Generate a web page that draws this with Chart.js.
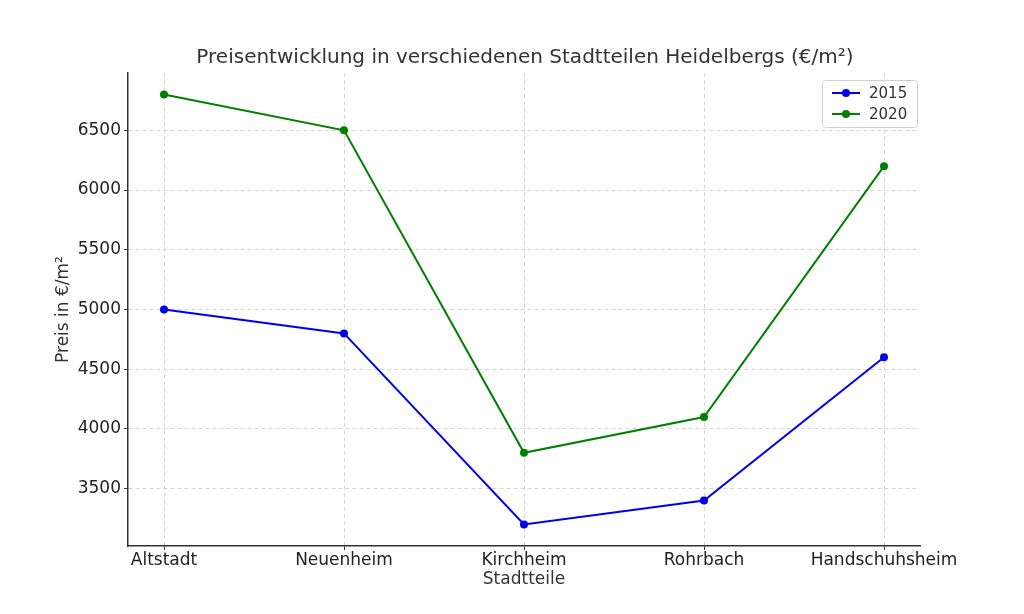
<!DOCTYPE html>
<html>
<head>
<meta charset="utf-8">
<script src="https://cdn.jsdelivr.net/npm/chart.js@4/dist/chart.umd.min.js"></script>
<style>
  html, body { margin: 0; padding: 0; background: #fff; }
  canvas { display: block; }
</style>
</head>
<body>
<canvas id="chart" width="1024" height="614"></canvas>
<script>
const districts = ['Altstadt', 'Neuenheim', 'Kirchheim', 'Rohrbach', 'Handschuhsheim'];
const prices2015 = [5000, 4800, 3200, 3400, 4600];
const prices2020 = [6800, 6500, 3800, 4100, 6200];
const yTicks = [3500, 4000, 4500, 5000, 5500, 6000, 6500];
const seriesLabels = ['2015', '2020'];

const chartTitle = 'Preisentwicklung in verschiedenen Stadtteilen Heidelbergs (€/m²)';
const xTitle = 'Stadtteile';
const yTitle = 'Preis in €/m²';

const FONT = '"DejaVu Sans", sans-serif';
const toPoints = (vals) => vals.map((v, i) => ({ x: i, y: v }));

// title, axis titles and the boxed legend drawn in matplotlib style
const decorations = {
    id: 'decorations',
    afterDraw(chart) {
        const { ctx, chartArea: a } = chart;
        ctx.save();
        ctx.fillStyle = '#333';
        ctx.textAlign = 'center';
        ctx.textBaseline = 'middle';
        ctx.font = `20px ${FONT}`;
        ctx.fillText(chartTitle, (a.left + a.right) / 2 + 1, 58);

        ctx.font = `17px ${FONT}`;
        ctx.fillText(xTitle, (a.left + a.right) / 2, 580);
        ctx.save();
        ctx.translate(64, (a.top + a.bottom) / 2);
        ctx.rotate(-Math.PI / 2);
        ctx.fillText(yTitle, 0, 0);
        ctx.restore();

        // legend
        const bx = 822, by = 80, bw = 95, bh = 47;
        ctx.fillStyle = 'rgba(255,255,255,0.85)';
        ctx.strokeStyle = '#d0d0d0';
        ctx.lineWidth = 1;
        ctx.beginPath();
        ctx.roundRect(bx + 0.5, by + 0.5, bw, bh, 3);
        ctx.fill();
        ctx.stroke();
        ctx.font = `15px ${FONT}`;
        ctx.textAlign = 'left';
        chart.data.datasets.forEach((ds, i) => {
            const y = by + 13 + i * 21;
            ctx.strokeStyle = ds.borderColor;
            ctx.lineWidth = 2;
            ctx.beginPath();
            ctx.moveTo(bx + 10, y);
            ctx.lineTo(bx + 38, y);
            ctx.stroke();
            ctx.fillStyle = ds.borderColor;
            ctx.beginPath();
            ctx.arc(bx + 24, y, 4, 0, Math.PI * 2);
            ctx.fill();
            ctx.fillStyle = '#333';
            ctx.fillText(ds.label, bx + 47, y + 1);
        });
        ctx.restore();
    }
};

new Chart(document.getElementById('chart'), {
    type: 'line',
    data: {
        datasets: [
            { label: seriesLabels[0], data: toPoints(prices2015), borderColor: '#0000ee', backgroundColor: '#0000ee' },
            { label: seriesLabels[1], data: toPoints(prices2020), borderColor: '#007f00', backgroundColor: '#007f00' }
        ]
    },
    options: {
        responsive: false,
        animation: false,
        layout: { padding: { top: 73, right: 104, left: 0, bottom: 0 } },
        elements: {
            line: { borderWidth: 2, tension: 0 },
            point: { radius: 4, hoverRadius: 4, borderWidth: 0 }
        },
        plugins: { legend: { display: false }, tooltip: { enabled: false }, title: { display: false } },
        scales: {
            x: {
                type: 'linear',
                min: -0.2,
                max: 4.2,
                afterBuildTicks: (s) => { s.ticks = districts.map((_, i) => ({ value: i })); },
                afterFit: (s) => { s.height = 68; },
                ticks: { callback: (v) => districts[v], color: '#222', font: { family: FONT, size: 17 }, padding: 0, maxRotation: 0, autoSkip: false },
                grid: { color: '#d6d6d6', lineWidth: 1, tickLength: 4, tickColor: '#333', tickBorderDash: [] },
                border: { display: true, color: '#333', width: 1.5, dash: [4, 3] }
            },
            y: {
                min: 3020,
                max: 6980,
                afterBuildTicks: (s) => { s.ticks = yTicks.map(v => ({ value: v })); },
                afterFit: (s) => { s.width = 128; },
                ticks: { callback: (v) => String(v), color: '#222', font: { family: FONT, size: 17 }, padding: 3 },
                grid: { color: '#d6d6d6', lineWidth: 1, tickLength: 4, tickColor: '#333', tickBorderDash: [] },
                border: { display: true, color: '#333', width: 1.5, dash: [4, 3] }
            }
        }
    },
    plugins: [decorations]
});
</script>
</body>
</html>
